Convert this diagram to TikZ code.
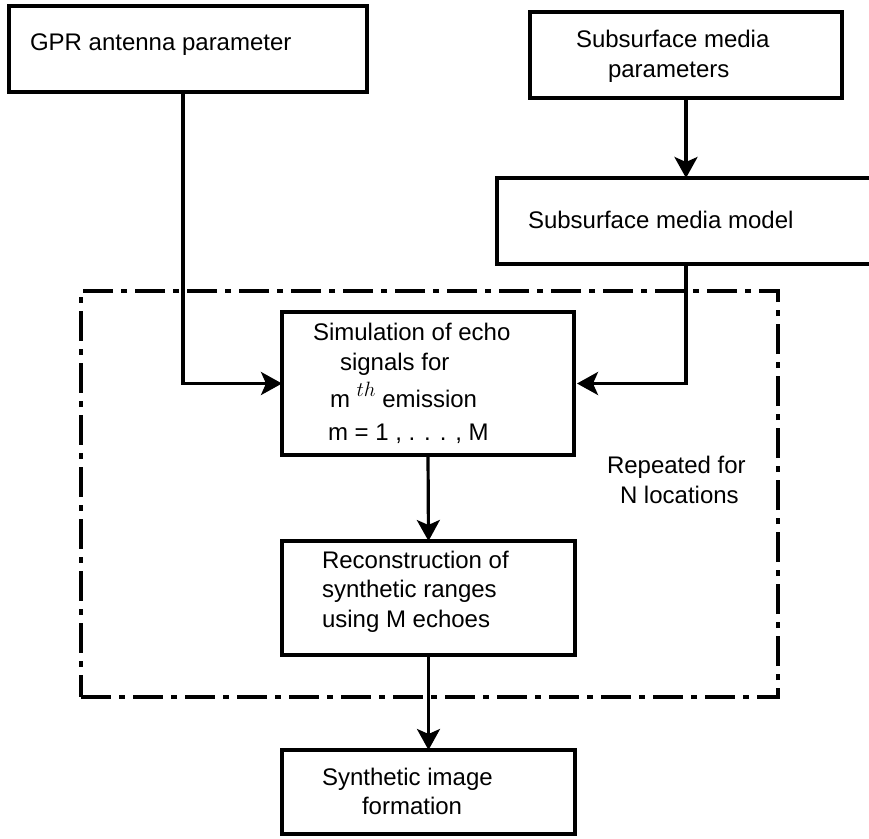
\documentclass[tikz,border=0pt]{standalone}
\usepackage{fontspec}
\setmainfont{Liberation Sans}
\usetikzlibrary{arrows.meta}
\begin{document}
\begin{tikzpicture}[x=1pt,y=-1pt,
  box/.style={draw, line width=3.2pt, inner sep=0pt, outer sep=0pt, anchor=north west},
  txt/.style={font=\fontsize{24}{30}\selectfont, inner sep=0pt, outer sep=0pt, anchor=base west},
  conn/.style={line width=3.2pt, -{Stealth[length=21pt,width=23pt,inset=5pt]}},
  rep/.style={draw, line width=3.2pt, inner sep=0pt, outer sep=0pt, anchor=north west, dash pattern=on 30pt off 8pt on 6pt off 8pt}]
\useasboundingbox (0,0) rectangle (869,838);
\clip (0,0) rectangle (869,838);
% frame of the repeated part
\node[rep, minimum width=697pt, minimum height=406pt] (loop) at (81,291) {};
% boxes
\node[box, minimum width=358pt, minimum height=86pt] (b1) at (9,6) {};
\node[box, minimum width=312pt, minimum height=86pt] (b2) at (530,12) {};
\node[box, minimum width=408pt, minimum height=86pt] (b3) at (497,178) {};
\node[box, minimum width=292pt, minimum height=143pt] (sim) at (282,312) {};
\node[box, minimum width=293pt, minimum height=114pt] (rec) at (282,541) {};
\node[box, minimum width=293pt, minimum height=84pt] (syn) at (282,750) {};
% texts
\node[txt] (t1) at (30,50) {GPR antenna parameter};
\node[txt] (t2a) at (576,47) {Subsurface media};
\node[txt] (t2b) at (608,77) {parameters};
\node[txt] (t3) at (528,228) {Subsurface media model};
\node[txt] (s1) at (313,340) {Simulation of echo};
\node[txt] (s2) at (340,370) {signals for};
\node[txt] (s3) at (330,407) {m \raisebox{11pt}{\fontsize{21}{21}\selectfont$th$} emission};
\node[txt] (s4) at (328,440) {m = 1 , . . . , M};
\node[txt] (r1) at (607,473) {Repeated for};
\node[txt] (r2) at (620,503) {N locations};
\node[txt] (c1) at (322,568) {Reconstruction of};
\node[txt] (c2) at (322,597) {synthetic ranges};
\node[txt] (c3) at (322,627) {using M echoes};
\node[txt] (f1) at (322,785) {Synthetic image};
\node[txt] (f2) at (362,814) {formation};
% connectors
\coordinate (a1) at ([xshift=-5pt]b1.south);
\draw[conn] (a1) |- (sim.west);
\draw[conn] (b2.south) -- (b2.south |- b3.north);
\draw[conn, shorten >=3pt] (b2.south |- b3.south) |- (sim.east);
\draw[conn] (sim.south) -- (rec.north);
\draw[conn] (rec.south) -- (syn.north);
\end{tikzpicture}
\end{document}
